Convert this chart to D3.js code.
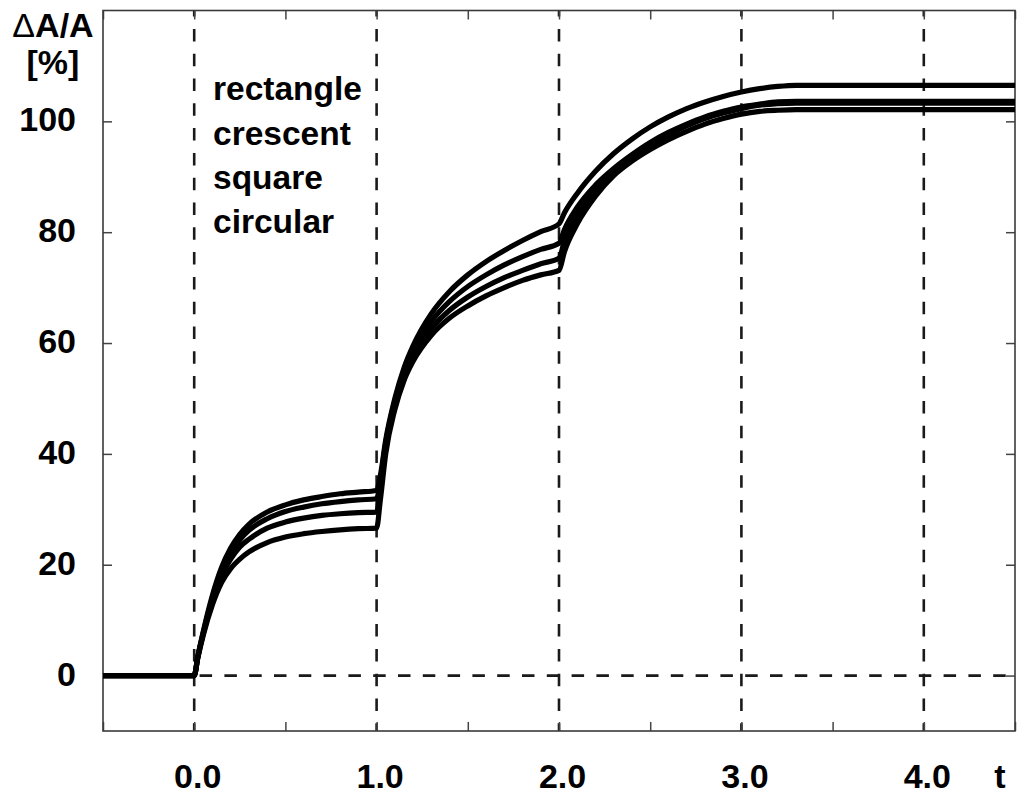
<!DOCTYPE html>
<html>
<head>
<meta charset="utf-8">
<script src="https://cdn.jsdelivr.net/npm/d3@7"></script>
<style>
  html, body { margin: 0; padding: 0; background: #fff; }
  svg { display: block; }
  text { font-family: "Liberation Sans", Arial, Helvetica, sans-serif; font-weight: bold; fill: #000; }
</style>
</head>
<body>
<svg id="chart" width="1017" height="795"></svg>
<script>
// ---------------- data ----------------
const tValues = [-0.5, 0, 0.02, 0.05, 0.1, 0.15, 0.2, 0.25, 0.3, 0.4, 0.5, 0.6, 0.7, 0.8, 0.9, 1.0,
  1.02, 1.05, 1.1, 1.15, 1.2, 1.3, 1.4, 1.5, 1.6, 1.7, 1.8, 1.9, 2.0,
  2.03, 2.1, 2.2, 2.3, 2.4, 2.5, 2.6, 2.7, 2.8, 2.9, 3.0, 3.1, 3.2, 3.3, 3.5, 4.0, 4.5];

const rectangle = [0, 0, 3.5, 8, 14.5, 19.5, 23, 25.5, 27.3, 29.5, 30.8, 31.7, 32.3, 32.8, 33.1, 33.4,
  36, 42.5, 50, 55.5, 59.5, 65.3, 69.3, 72.3, 74.7, 76.7, 78.5, 80.1, 81.5,
  83.5, 87, 91, 94.2, 96.8, 99, 100.8, 102.3, 103.5, 104.5, 105.3, 105.9, 106.3, 106.5, 106.5, 106.5, 106.5];

const crescent = [0, 0, 3.4, 7.8, 14, 18.8, 22.2, 24.5, 26.2, 28.3, 29.6, 30.4, 31, 31.4, 31.7, 31.9,
  35, 42, 49.5, 54.8, 58.6, 63.9, 67.5, 70.2, 72.3, 74.1, 75.6, 76.9, 78,
  80.5, 84.5, 88.5, 91.5, 94, 96.2, 98, 99.5, 100.8, 101.8, 102.6, 103.1, 103.5, 103.6, 103.6, 103.6, 103.6];

const square = [0, 0, 3.3, 7.6, 13.5, 18, 21, 23.2, 24.6, 26.6, 27.7, 28.4, 28.9, 29.2, 29.4, 29.5,
  33.5, 41, 48.8, 54, 57.6, 62.6, 65.9, 68.3, 70.2, 71.8, 73.1, 74.3, 75.3,
  78.5, 83, 87.5, 91, 93.6, 95.8, 97.6, 99.2, 100.5, 101.5, 102.3, 102.9, 103.2, 103.3, 103.3, 103.3, 103.3];

const circular = [0, 0, 3.2, 7.3, 12.8, 16.8, 19.3, 21, 22.3, 24, 25, 25.6, 26, 26.3, 26.5, 26.6,
  31.5, 40, 48, 53.2, 56.7, 61.4, 64.5, 66.7, 68.5, 70, 71.3, 72.3, 73.1,
  76.5, 81.5, 86.5, 90.2, 92.8, 94.9, 96.7, 98.2, 99.5, 100.5, 101.3, 101.8, 102, 102.1, 102.1, 102.1, 102.1];

const seriesNames = ["rectangle", "crescent", "square", "circular"];
const seriesValues = [rectangle, crescent, square, circular];

const xMajorTicks = [0, 1, 2, 3, 4];
const xMinorTicks = [-0.5, 0.5, 1.5, 2.5, 3.5, 4.5];
const xTickLabels = ["0.0", "1.0", "2.0", "3.0", "4.0"];
const yTicks = [0, 20, 40, 60, 80, 100];
const yTickLabels = ["0", "20", "40", "60", "80", "100"];
const xDomain = [-0.5, 4.5];
const yDomain = [-10, 120];

// ---------------- layout ----------------
const L = 103, R = 1015, T = 10.5, B = 731;
const svg = d3.select("#chart");
const x = d3.scaleLinear().domain(xDomain).range([L, R]);
const y = d3.scaleLinear().domain(yDomain).range([B, T]);

const FS = 34;

// clip
svg.append("defs").append("clipPath").attr("id", "clip")
  .append("rect").attr("x", L).attr("y", T).attr("width", R - L).attr("height", B - T);

// dashed reference lines
const ref = svg.append("g").attr("clip-path", "url(#clip)");
ref.selectAll("line.v").data(xMajorTicks).join("line")
  .attr("class", "v")
  .attr("x1", d => x(d)).attr("x2", d => x(d))
  .attr("y1", T).attr("y2", B)
  .attr("stroke", "#1a1a1a").attr("stroke-width", 2.6)
  .attr("stroke-dasharray", "12.5,12.3")
  .attr("stroke-dashoffset", 6.4);
ref.append("line")
  .attr("x1", x(0)).attr("x2", R)
  .attr("y1", y(0)).attr("y2", y(0))
  .attr("stroke", "#1a1a1a").attr("stroke-width", 2.6)
  .attr("stroke-dasharray", "12.5,12.3")
  .attr("stroke-dashoffset", 19.4);

// axes (ticks inward)
function styleAxis(g) {
  g.select(".domain").remove();
  g.selectAll(".tick line").attr("stroke", "#444").attr("stroke-width", 1.5);
  g.selectAll("text").style("font-size", FS + "px").style("font-weight", "bold")
    .style("font-family", '"Liberation Sans", Arial, sans-serif').attr("fill", "#000");
}

svg.append("g").attr("transform", `translate(0,${B})`)
  .call(d3.axisBottom(x).tickValues(xMajorTicks).tickSize(-9).tickPadding(33)
    .tickFormat((d, i) => xTickLabels[i]))
  .call(styleAxis)
  .call(g => g.selectAll("text").attr("dx", 3));

svg.append("g").attr("transform", `translate(0,${B})`)
  .call(d3.axisBottom(x).tickValues(xMinorTicks).tickSize(-9).tickFormat(""))
  .call(styleAxis);

svg.append("g").attr("transform", `translate(0,${T})`)
  .call(d3.axisTop(x).tickValues(xMajorTicks.concat(xMinorTicks)).tickSize(-9).tickFormat(""))
  .call(styleAxis);

svg.append("g").attr("transform", `translate(${L},0)`)
  .call(d3.axisLeft(y).tickValues(yTicks).tickSize(-9).tickPadding(27)
    .tickFormat((d, i) => yTickLabels[i]))
  .call(styleAxis)
  .call(g => g.selectAll("text").attr("dy", "0.28em"));

svg.append("g").attr("transform", `translate(${R},0)`)
  .call(d3.axisRight(y).tickValues(yTicks).tickSize(-9).tickFormat(""))
  .call(styleAxis);

// frame
svg.append("rect").attr("x", L).attr("y", T).attr("width", R - L).attr("height", B - T)
  .attr("fill", "none").attr("stroke", "#3a3a3a").attr("stroke-width", 1.6);

// curves
const line = d3.line()
  .x((d, i) => x(tValues[i]))
  .y(d => y(d))
  .curve(d3.curveMonotoneX);

svg.append("g").attr("clip-path", "url(#clip)")
  .selectAll("path").data(seriesValues).join("path")
  .attr("d", d => line(d))
  .attr("fill", "none")
  .attr("stroke", "#000")
  .attr("stroke-width", 5.2)
  .attr("stroke-linejoin", "round");

// labels inside plot
const legendY = [100, 145, 189, 233];
svg.append("g").selectAll("text").data(seriesNames).join("text")
  .attr("x", 213).attr("y", (d, i) => legendY[i])
  .style("font-size", "33.5px")
  .text(d => d);

// y axis title
const yt = svg.append("text").attr("x", 53).attr("y", 37).attr("text-anchor", "middle")
  .style("font-size", FS + "px");
yt.append("tspan").style("font-weight", "normal").text("\u0394");
yt.append("tspan").text("A/A");
svg.append("text").attr("x", 53).attr("y", 74).attr("text-anchor", "middle")
  .style("font-size", FS + "px").text("[%]");

// x axis title
svg.append("text").attr("x", 1000).attr("y", 788).attr("text-anchor", "middle")
  .style("font-size", FS + "px").text("t");
</script>
</body>
</html>
